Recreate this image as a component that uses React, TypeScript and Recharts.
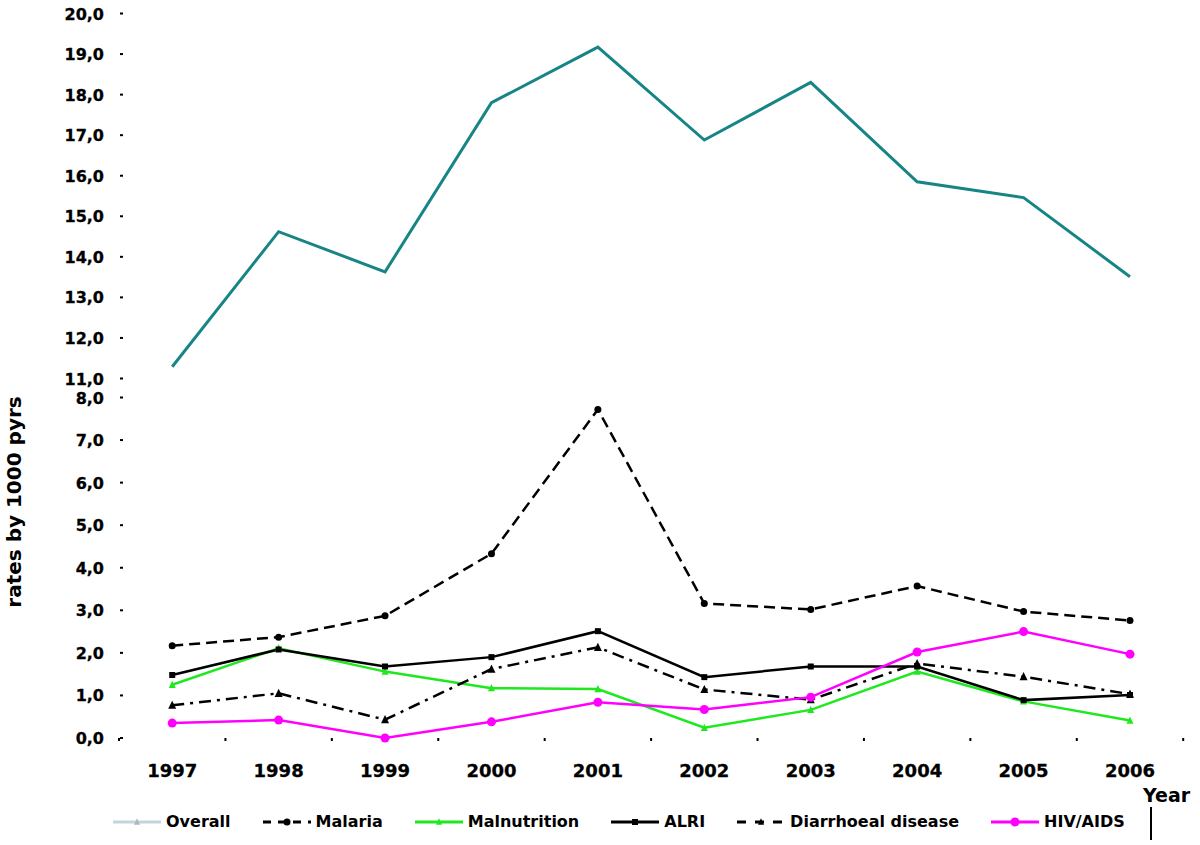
import { LineChart, Line, XAxis, YAxis, Legend } from "recharts";

const years = [1997, 1998, 1999, 2000, 2001, 2002, 2003, 2004, 2005, 2006];
const overall = [11.29, 14.62, 13.63, 17.8, 19.17, 16.88, 18.3, 15.85, 15.46, 13.51];
const malaria = [2.17, 2.37, 2.87, 4.33, 7.72, 3.16, 3.02, 3.57, 2.97, 2.76];
const malnutrition = [1.25, 2.11, 1.56, 1.17, 1.15, 0.24, 0.66, 1.56, 0.86, 0.41];
const alri = [1.48, 2.08, 1.68, 1.9, 2.51, 1.43, 1.68, 1.68, 0.89, 1.01];
const diarrhoeal = [0.77, 1.05, 0.43, 1.62, 2.13, 1.14, 0.9, 1.75, 1.44, 1.03];
const hivAids = [0.35, 0.42, 0.0, 0.38, 0.84, 0.67, 0.96, 2.02, 2.5, 1.97];

const upperTicks = [11, 12, 13, 14, 15, 16, 17, 18, 19, 20];
const lowerTicks = [0, 1, 2, 3, 4, 5, 6, 7, 8];

const data = years.map((year, i) => ({
  year,
  overall: overall[i],
  malaria: malaria[i],
  malnutrition: malnutrition[i],
  alri: alri[i],
  diarrhoeal: diarrhoeal[i],
  hivAids: hivAids[i],
}));

// labels on the years, small marks half way between them
const xTicks = years.flatMap((y) => [y - 0.5, y]).concat(years[years.length - 1] + 0.5);
const xDomain = [years[0] - 0.5, years[years.length - 1] + 0.5];

const FONT = "'DejaVu Sans', Verdana, sans-serif";

type Marker = "circle" | "triangle" | "square" | "none";

const series: {
  key: string;
  name: string;
  color: string;
  legendColor: string;
  dash?: string;
  legendDash?: string;
  marker: Marker;
  size: number;
}[] = [
  { key: "overall", name: "Overall", color: "#178585", legendColor: "#c3d5d9", marker: "triangle", size: 6 },
  { key: "malaria", name: "Malaria", color: "#000", legendColor: "#000", dash: "11 6", legendDash: "8 7", marker: "circle", size: 3.5 },
  { key: "malnutrition", name: "Malnutrition", color: "#1ee81e", legendColor: "#1ee81e", marker: "triangle", size: 7 },
  { key: "alri", name: "ALRI", color: "#000", legendColor: "#000", marker: "square", size: 6 },
  { key: "diarrhoeal", name: "Diarrhoeal disease", color: "#000", legendColor: "#000", dash: "12 6 3 6", legendDash: "9 9", marker: "triangle", size: 8 },
  { key: "hivAids", name: "HIV/AIDS", color: "#ff00ff", legendColor: "#ff00ff", marker: "circle", size: 4.5 },
];

const fmt = (v: number) => v.toFixed(1).replace(".", ",");

function MarkerShape({ cx, cy, type, size, fill }: { cx: number; cy: number; type: Marker; size: number; fill: string }) {
  if (type === "circle") return <circle cx={cx} cy={cy} r={size} fill={fill} />;
  if (type === "square") return <rect x={cx - size / 2} y={cy - size / 2} width={size} height={size} fill={fill} />;
  if (type === "triangle") {
    const h = size * 0.9;
    return <polygon points={`${cx},${cy - h / 2 - 1} ${cx + size / 2},${cy + h / 2} ${cx - size / 2},${cy + h / 2}`} fill={fill} />;
  }
  return null;
}

function YTick({ x, y, payload }: any) {
  return (
    <g>
      <text x={x - 15} y={y} dy={6} textAnchor="end" fontSize={16} fontWeight="bold" fill="#000" stroke="#000" strokeWidth={0.3} fontFamily={FONT}>
        {fmt(payload.value)}
      </text>
      <rect x={x + 1} y={y - 1} width={3} height={2} fill="#000" />
    </g>
  );
}

function XTick({ x, y, payload }: any) {
  const v = payload.value;
  if (!Number.isInteger(v)) return <rect x={x - 1} y={y} width={2} height={3} fill="#000" />;
  return (
    <text x={x} y={y} dy={39} textAnchor="middle" fontSize={18} fontWeight="bold" fill="#000" stroke="#000" strokeWidth={0.3} fontFamily={FONT}>
      {v}
    </text>
  );
}

function LegendContent() {
  return (
    <div style={{ display: "flex", alignItems: "center", gap: 32, fontFamily: FONT, fontWeight: "bold", fontSize: 16, color: "#000" }}>
      {series.map((s) => (
        <div key={s.key} style={{ display: "flex", alignItems: "center", whiteSpace: "nowrap" }}>
          <svg width={48} height={14} style={{ marginRight: 5 }}>
            <line x1={0} y1={7} x2={48} y2={7} stroke={s.legendColor} strokeWidth={3} strokeDasharray={s.legendDash} />
            <MarkerShape cx={24} cy={7} type={s.marker} size={Math.min(s.size, 6)} fill={s.key === "overall" ? "#a9b9bd" : s.legendColor} />
          </svg>
          <span>{s.name}</span>
        </div>
      ))}
    </div>
  );
}

export default function App() {
  const lower = series.filter((s) => s.key !== "overall");
  const top = series[0];
  return (
    <div style={{ position: "absolute", left: 0, top: 0, width: 1200, height: 845, background: "#fff", overflow: "hidden" }}>
      <div style={{ position: "absolute", left: 0, top: 0 }}>
        <LineChart width={1200} height={845} data={data} margin={{ top: 13.5, right: 16.8, bottom: 466.5, left: 0 }}>
          <XAxis dataKey="year" type="number" domain={xDomain} hide height={0} />
          <YAxis
            domain={[11, 20]}
            ticks={upperTicks}
            interval={0}
            width={119}
            axisLine={false}
            tickLine={false}
            tickSize={0}
            tickMargin={0}
            tick={<YTick />}
          />
          <Line
            dataKey={top.key}
            name={top.name}
            stroke={top.color}
            strokeWidth={3}
            dot={false}
            isAnimationActive={false}
          />
        </LineChart>
      </div>
      <div style={{ position: "absolute", left: 0, top: 0 }}>
        <LineChart width={1200} height={845} data={data} margin={{ top: 397.5, right: 16.8, bottom: 77, left: 0 }}>
          <XAxis
            dataKey="year"
            type="number"
            domain={xDomain}
            ticks={xTicks}
            interval={0}
            height={30}
            axisLine={false}
            tickLine={false}
            tickSize={0}
            tickMargin={0}
            tick={<XTick />}
          />
          <YAxis
            domain={[0, 8]}
            ticks={lowerTicks}
            interval={0}
            width={119}
            axisLine={false}
            tickLine={false}
            tickSize={0}
            tickMargin={0}
            tick={<YTick />}
          />
          <Legend
            layout="horizontal"
            verticalAlign="middle"
            align="center"
            wrapperStyle={{ top: 812, left: 113, width: 1050, height: 22 }}
            content={<LegendContent />}
          />
          {lower.map((s) => (
            <Line
              key={s.key}
              dataKey={s.key}
              name={s.name}
              stroke={s.color}
              strokeWidth={2.5}
              strokeDasharray={s.dash}
              isAnimationActive={false}
              dot={(p: any) => (
                <MarkerShape key={`${s.key}-${p.index}`} cx={p.cx} cy={p.cy} type={s.marker} size={s.size} fill={s.color} />
              )}
              activeDot={false}
            />
          ))}
        </LineChart>
      </div>
      <div
        style={{
          position: "absolute",
          left: 14,
          top: 502,
          transform: "translate(-50%, -50%) rotate(-90deg)",
          whiteSpace: "nowrap",
          fontFamily: FONT,
          fontWeight: "bold",
          fontSize: 20,
        }}
      >
        rates by 1000 pyrs
      </div>
      <div style={{ position: "absolute", left: 1143, top: 784, fontFamily: FONT, fontWeight: "bold", fontSize: 19 }}>Year</div>
      <div style={{ position: "absolute", left: 1150, top: 807, width: 2, height: 33, background: "#000" }} />
    </div>
  );
}
